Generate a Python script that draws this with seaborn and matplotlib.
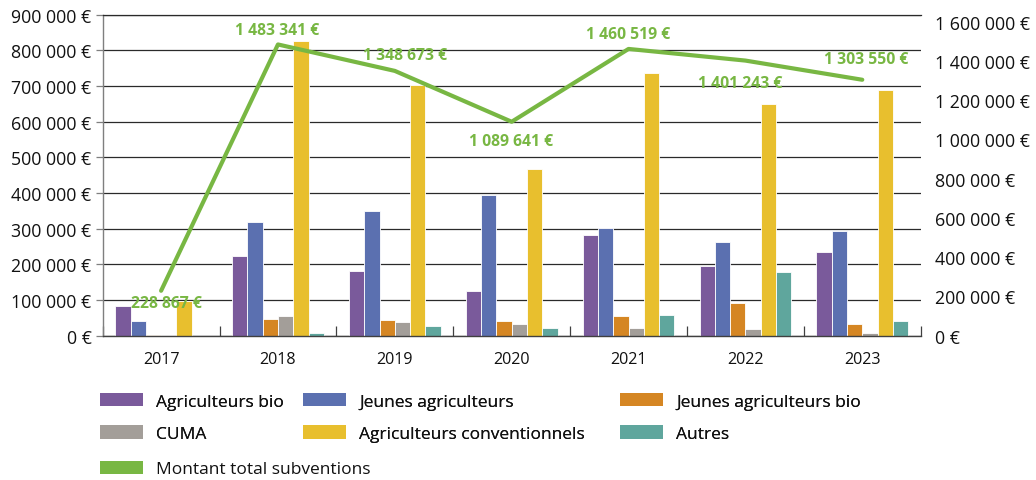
import numpy as np
import pandas as pd
import matplotlib
matplotlib.use("Agg")
import matplotlib.pyplot as plt
from matplotlib.patches import Patch
from matplotlib.ticker import FixedLocator, FuncFormatter
import seaborn as sns

# ---------------- data ----------------
years = ["2017", "2018", "2019", "2020", "2021", "2022", "2023"]
categories = ["Agriculteurs bio", "Jeunes agriculteurs", "Jeunes agriculteurs bio",
              "CUMA", "Agriculteurs conventionnels", "Autres"]
agri_bio = [84000, 224000, 182000, 126000, 283000, 196000, 235000]
jeunes = [41000, 320000, 350000, 394000, 301000, 264000, 294000]
jeunes_bio = [1500, 47000, 45000, 42000, 56000, 92000, 34000]
cuma = [2500, 56000, 39000, 34000, 22000, 19000, 8500]
conventionnels = [98000, 827000, 703000, 467000, 736000, 650000, 690000]
autres = [0, 7500, 28000, 21500, 59000, 179000, 42000]
totals = [228867, 1483341, 1348673, 1089641, 1460519, 1401243, 1303550]
total_label = "Montant total subventions"

left_ticks = [0, 100000, 200000, 300000, 400000, 500000, 600000, 700000, 800000, 900000]
right_ticks = [0, 200000, 400000, 600000, 800000, 1000000, 1200000, 1400000, 1600000]

# ---------------- style ----------------
colors = ["#7A5A9B", "#5B70B0", "#D58623", "#A39E99", "#E8BF2E", "#5FA69D"]
green = "#78B743"
font_main = ["Open Sans", "DejaVu Sans"]

sns.set_style("white")
plt.rcParams["font.family"] = font_main

series = [agri_bio, jeunes, jeunes_bio, cuma, conventionnels, autres]
df = pd.DataFrame({
    "year": [y for c in categories for y in years],
    "cat": [c for c in categories for _ in years],
    "value": [v for s in series for v in s],
})

fig = plt.figure(figsize=(10.36, 4.81), dpi=100)
ax = fig.add_axes([0.0991, 0.30, 0.7896, 0.6674])

sns.barplot(data=df, x="year", y="value", hue="cat", hue_order=categories,
            order=years, palette=colors, saturation=1, width=0.785,
            edgecolor="white", linewidth=0.6, legend=False, ax=ax, errorbar=None)

ax.set_xlim(-0.5, len(years) - 0.5)
ax.set_ylim(0, 900000)
ax.set_axisbelow(True)
ax.yaxis.set_major_locator(FixedLocator(left_ticks))
fmt = FuncFormatter(lambda v, p: f"{v:,.0f} €".replace(",", " "))
ax.yaxis.set_major_formatter(fmt)
ax.grid(axis="y", color="#2a2a2a", linewidth=0.9)
ax.grid(axis="x", visible=False)
ax.set_xlabel("")
ax.set_ylabel("")
ax.tick_params(axis="y", labelsize=12.8, length=5, width=0.9, color="#7f7f7f",
               pad=3, labelcolor="#111111", left=True)
ax.tick_params(axis="x", which="major", length=0, labelsize=11.6, pad=11,
               labelcolor="#111111")
ax.xaxis.set_minor_locator(FixedLocator(np.arange(-0.5, len(years), 1.0)))
ax.tick_params(axis="x", which="minor", direction="in", length=7, width=0.9,
               color="#404040", bottom=True)
ax.spines["right"].set_visible(False)
ax.spines["left"].set_color("#7f7f7f")
ax.spines["left"].set_linewidth(1.0)
ax.spines["top"].set_color("#2a2a2a")
ax.spines["top"].set_linewidth(0.9)
ax.spines["bottom"].set_color("#404040")
ax.spines["bottom"].set_linewidth(1.0)

# ---------------- secondary axis with total line ----------------
ax2 = ax.twinx()
sns.pointplot(x=years, y=totals, order=years, color=green, marker="",
              linewidth=3.0, ax=ax2, errorbar=None)
for ln in ax2.lines:
    ln.set_solid_capstyle("round")
    ln.set_solid_joinstyle("round")
ax2.set_xlim(-0.5, len(years) - 0.5)
ax2.set_ylim(0, 1635000)
ax2.yaxis.set_major_locator(FixedLocator(right_ticks))
ax2.yaxis.set_major_formatter(fmt)
ax2.tick_params(axis="y", labelsize=12.8, length=0, pad=10, labelcolor="#111111")
ax2.set_ylabel("")
ax2.set_xlabel("")
for side in ["right", "left", "top", "bottom"]:
    ax2.spines[side].set_visible(False)
ax2.grid(False)

offsets = [(5, -12), (-1, 14), (10, 16), (-1, -19), (0, 15), (-5, -22), (4, 21)]
for i, (val, off) in enumerate(zip(totals, offsets)):
    ax2.annotate(f"{val:,.0f} €".replace(",", " "), xy=(i, val), xytext=off,
                 textcoords="offset pixels", ha="center", va="center",
                 color=green, fontsize=11.3, fontweight="bold",
                 family=font_main, clip_on=False)

# ---------------- legend ----------------
common = dict(frameon=False, fontsize=12.5, handlelength=2.47, handleheight=0.8,
              handletextpad=0.75, labelspacing=0.9, borderpad=0,
              borderaxespad=0, loc="center left", labelcolor="#111111")
cols = [(0, 3, 0.0965), (1, 4, 0.2925), (2, 5, 0.5985)]
for a, b, x in cols:
    hs = [Patch(facecolor=colors[a], edgecolor="none", label=categories[a]),
          Patch(facecolor=colors[b], edgecolor="none", label=categories[b])]
    leg = fig.legend(handles=hs, bbox_to_anchor=(x, 0.1299), **common)
    fig.add_artist(leg)
leg = fig.legend(handles=[Patch(facecolor=green, edgecolor="none", label=total_label)],
                 bbox_to_anchor=(0.0965, 0.0229), **common)

fig.savefig("out.png", dpi=100)
